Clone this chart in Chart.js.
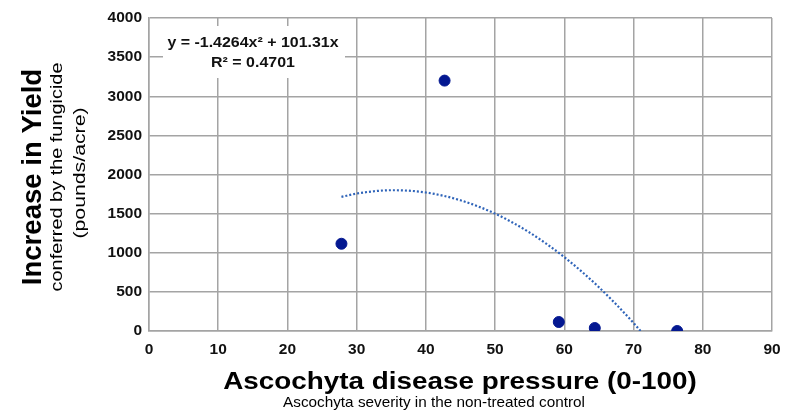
<!DOCTYPE html>
<html>
<head>
<meta charset="utf-8">
<script src="https://cdn.jsdelivr.net/npm/chart.js@4"></script>
<style>
  html, body { margin: 0; padding: 0; background: #fff; }
  #wrap { width: 787px; height: 411px; }
</style>
</head>
<body>
<div id="wrap"><canvas id="c" width="787" height="411"></canvas></div>
<script>
// ── data ─────────────────────────────────────────────────────────────────────
const severity   = [27.8, 42.7, 59.2, 64.4, 76.3];
const yieldGain  = [1115, 3200, 115, 38, 0];

// fitted curve, sampled along the dotted trendline
const trendX = [27.8, 30, 32.5, 35, 37.5, 40, 42.5, 45, 47.5, 50, 52.5, 55, 57.5, 60, 62.5, 65, 67.5, 70, 71];
const trendY = [1714, 1756, 1786, 1799, 1793, 1770, 1729, 1670, 1594, 1500, 1387, 1257, 1109, 944, 760, 559, 339, 102, 0];

const xTicks = [0, 10, 20, 30, 40, 50, 60, 70, 80, 90];
const yTicks = [0, 500, 1000, 1500, 2000, 2500, 3000, 3500, 4000];

const eqLine1 = 'y = -1.4264x² + 101.31x';
const eqLine2 = 'R² = 0.4701';

const GRID = '#a4a4a4';
const TICK_FONT = { family: '"Liberation Sans", Arial', size: 15.5, weight: 'bold' };

// text drawn with a stretch along its own direction
function stretchedText(ctx, text, x, y, font, sx, angle) {
  ctx.save();
  ctx.translate(x, y);
  if (angle) ctx.rotate(angle);
  ctx.scale(sx, 1);
  ctx.font = font;
  ctx.textAlign = 'center';
  ctx.textBaseline = 'middle';
  ctx.fillText(text, 0, 0);
  ctx.restore();
}

// titles + equation box drawn on the canvas
const decorations = {
  id: 'decorations',
  afterDraw(chart) {
    const { ctx } = chart;
    ctx.save();
    ctx.fillStyle = '#000';

    // y titles (rotated)
    const up = -Math.PI / 2;
    stretchedText(ctx, 'Increase in Yield', 34, 177, 'bold 27px "Liberation Sans", Arial', 1.02, up);
    stretchedText(ctx, 'conferred by the fungicide', 57, 177, '17px "Liberation Sans", Arial', 1.17, up);
    stretchedText(ctx, '(pounds/acre)', 80, 173, '17px "Liberation Sans", Arial', 1.25, up);

    // x titles
    stretchedText(ctx, 'Ascochyta disease pressure (0-100)', 460, 382,
      'bold 24px "Liberation Sans", Arial', 1.16, 0);
    stretchedText(ctx, 'Ascochyta severity in the non-treated control', 434, 403,
      '15px "Liberation Sans", Arial', 1.02, 0);

    // equation box
    ctx.fillStyle = '#fff';
    ctx.fillRect(163, 26, 182, 52);
    ctx.fillStyle = '#111';
    stretchedText(ctx, eqLine1, 253, 43, 'bold 14.5px "Liberation Sans", Arial', 1.1, 0);
    stretchedText(ctx, eqLine2, 253, 63, 'bold 14.5px "Liberation Sans", Arial', 1.1, 0);
    ctx.restore();
  }
};

new Chart(document.getElementById('c'), {
  type: 'scatter',
  data: {
    datasets: [
      {
        label: 'Yield',
        data: severity.map((x, i) => ({ x, y: yieldGain[i] })),
        backgroundColor: '#041891',
        borderColor: '#041891',
        pointRadius: 5.5,
        order: 1,
      },
      {
        type: 'line',
        label: 'Poly. (Yield)',
        data: trendX.map((x, i) => ({ x, y: trendY[i] })),
        borderColor: '#2f64b9',
        borderWidth: 2.2,
        borderDash: [2, 2],
        pointRadius: 0,
        cubicInterpolationMode: 'monotone',
        fill: false,
        order: 2,
      },
    ],
  },
  options: {
    responsive: false,
    animation: false,
    layout: { padding: { left: 89, right: 15, top: 18, bottom: 0 } },
    plugins: { legend: { display: false }, tooltip: { enabled: false } },
    scales: {
      x: {
        type: 'linear', min: 0, max: 90,
        afterFit: s => { s.height = 80; s.paddingLeft = 0; s.paddingRight = 0; },
        afterBuildTicks: s => { s.ticks = xTicks.map(v => ({ value: v })); },
        grid: { color: GRID, lineWidth: 1.5, drawTicks: false },
        border: { color: GRID, width: 1.5 },
        ticks: { color: '#111', font: TICK_FONT, padding: 9, maxRotation: 0, callback: v => String(v) },
      },
      y: {
        type: 'linear', min: 0, max: 4000,
        afterFit: s => { s.width = 60; s.paddingTop = 0; s.paddingBottom = 0; },
        afterBuildTicks: s => { s.ticks = yTicks.map(v => ({ value: v })); },
        grid: { color: GRID, lineWidth: 1.5, drawTicks: false },
        border: { color: GRID, width: 1.5 },
        ticks: { color: '#111', font: TICK_FONT, padding: 7, callback: v => String(v) },
      },
    },
  },
  plugins: [decorations],
});
</script>
</body>
</html>
